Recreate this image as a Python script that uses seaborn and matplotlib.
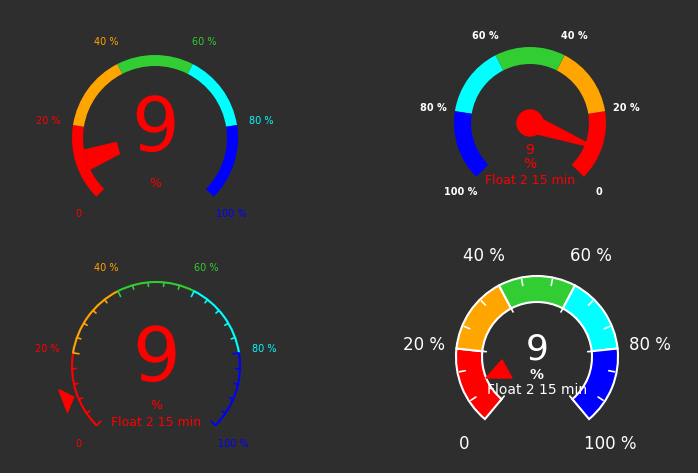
import numpy as np
import matplotlib
matplotlib.use("Agg")
import matplotlib.pyplot as plt
import seaborn as sns
from matplotlib.patches import Wedge, Circle, Polygon, Arc

sns.set_theme(style="dark")
plt.rcParams['font.family'] = ['DejaVu Sans']

band_edges = [0, 20, 40, 60, 80, 100]
band_colors = ["#ff0000", "#ffa500", "#32cd32", "#00ffff", "#0000ff"]
tick_labels = ["0", "20 %", "40 %", "60 %", "80 %", "100 %"]
value = 9
unit = "%"
caption = "Float 2 15 min"

BG = "#2e2e2e"
fig = plt.figure(figsize=(6.98, 4.73), dpi=100, facecolor=BG)
ax = fig.add_axes([0, 0, 1, 1])
ax.set_facecolor(BG)
ax.set_xlim(0, 698); ax.set_ylim(473, 0); ax.set_aspect('equal'); ax.axis('off')

def ang(v, start=225, span=270):
    return start - span * v / 100

def pt(cx, cy, r, a):
    t = np.deg2rad(a)
    return cx + r * np.cos(t), cy - r * np.sin(t)

def wedge(cx, cy, r, a1, a2, w, color, **kw):
    lo, hi = min(a1, a2), max(a1, a2)
    ax.add_patch(Wedge((cx, cy), r, -hi, -lo, width=w, facecolor=color, **kw))

def label_color(i):
    return band_colors[max(i - 1, 0)]

# ---------- Gauge 1 ----------
cx, cy, R = 155, 138, 83
for i, c in enumerate(band_colors):
    wedge(cx, cy, R, ang(band_edges[i]), ang(band_edges[i+1]), 11, c, edgecolor='none')
for i, lab in enumerate(tick_labels):
    x, y = pt(cx, cy, 108, ang(band_edges[i]))
    ax.text(x, y, lab, color=label_color(i), fontsize=7, ha='center', va='center')
a = ang(value)
ax.add_patch(Polygon([pt(cx, cy, R - 11, a - 11), pt(cx, cy, R - 11, a + 5),
                      pt(cx, cy, R - 44, a + 3), pt(cx, cy, R - 44, a - 14)], closed=True, color='red'))
ax.text(cx, cy - 8, str(value), color='red', fontsize=54, ha='center', va='center')
ax.text(cx, 183, unit, color='red', fontsize=9, ha='center', va='center')

# ---------- Gauge 2 (reversed) ----------
cx, cy, R = 530, 123, 76
def angr(v): return -45 + 270 * v / 100
for i, c in enumerate(band_colors):
    wedge(cx, cy, R, angr(band_edges[i]), angr(band_edges[i+1]), 17, c, edgecolor='none')
for i, lab in enumerate(tick_labels):
    x, y = pt(cx, cy, R + 22, angr(band_edges[i]))
    ax.text(x, y, lab, color='white', fontsize=7, ha='center', va='center', fontweight='bold')
a = angr(value)
ax.add_patch(Circle((cx, cy), 13, color='red'))
tip = pt(cx, cy, R - 4, a)
ax.add_patch(Polygon([pt(cx, cy, 9, a + 90), pt(cx, cy, 9, a - 90), tip], closed=True, color='red'))
ax.text(cx, 150, str(value), color='red', fontsize=10, ha='center', va='center')
ax.text(cx, 164, unit, color='red', fontsize=10, ha='center', va='center')
ax.text(cx, 180, caption, color='red', fontsize=9, ha='center', va='center')

# ---------- Gauge 3 (line + ticks) ----------
cx, cy, R = 156, 366, 84
for i, c in enumerate(band_colors):
    a1, a2 = ang(band_edges[i]), ang(band_edges[i+1])
    ax.add_patch(Arc((cx, cy), 2 * R, 2 * R, theta1=-a1, theta2=-a2, color=c, lw=1.5))
    for k in range(5):
        v = band_edges[i] + 4 * k
        aa = ang(v)
        L = 6 if k == 0 else 4
        ax.plot(*zip(pt(cx, cy, R, aa), pt(cx, cy, R - L, aa)), color=c, lw=1.2)
ax.plot(*zip(pt(cx, cy, R, ang(100)), pt(cx, cy, R - 6, ang(100))), color=band_colors[4], lw=1.2)
for i, lab in enumerate(tick_labels):
    x, y = pt(cx, cy, 110, ang(band_edges[i]))
    ax.text(x, y, lab, color=label_color(i), fontsize=7, ha='center', va='center')
a = ang(value)
ax.add_patch(Polygon([pt(cx, cy, R + 4, a), pt(cx, cy, R + 16, a + 7), pt(cx, cy, R + 16, a - 7)], closed=True, color='red'))
ax.text(cx, 360, str(value), color='red', fontsize=54, ha='center', va='center')
ax.text(cx, 405, unit, color='red', fontsize=9, ha='center', va='center')
ax.text(cx, 422, caption, color='red', fontsize=9, ha='center', va='center')

# ---------- Gauge 4 (thick bands with white borders) ----------
cx, cy, R, W = 537, 357, 81, 26
def ang4(v): return ang(v, start=230, span=280)
for i, c in enumerate(band_colors):
    wedge(cx, cy, R, ang4(band_edges[i]), ang4(band_edges[i+1]), W, c, edgecolor='white', lw=1.5)
    for k in (2, 4):
        aa = ang4(band_edges[i] + 4 * k - 2)
        ax.plot(*zip(pt(cx, cy, R - 8, aa), pt(cx, cy, R - 2, aa)), color='white', lw=1.2)
for e in band_edges:
    aa = ang4(e)
    ax.plot(*zip(pt(cx, cy, R - W - 4, aa), pt(cx, cy, R - W + 3, aa)), color='white', lw=1.2)
for i, lab in enumerate(tick_labels):
    x, y = pt(cx, cy, R + 33, ang4(band_edges[i]))
    ax.text(x, y, lab, color='white', fontsize=12, ha='center', va='center')
ax.add_patch(Polygon([(486, 378), (512, 378), (502, 360)], closed=True, color='red'))
ax.text(cx, 349, str(value), color='white', fontsize=26, ha='center', va='center')
ax.text(cx, 375, unit, color='white', fontsize=10, ha='center', va='center', fontweight='bold')
ax.text(cx, 390, caption, color='white', fontsize=10, ha='center', va='center')

fig.savefig("out.png", dpi=100, facecolor=BG)
